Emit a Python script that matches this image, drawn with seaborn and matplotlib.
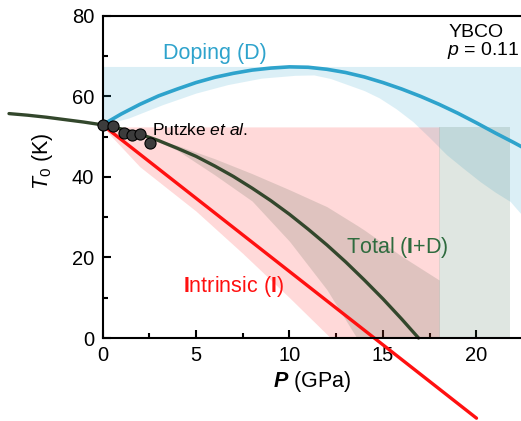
import matplotlib
matplotlib.use("Agg")
import matplotlib.pyplot as plt
import pandas as pd
import seaborn as sns

# --- data (P in GPa, T in K) ---
p_total = [-5, -4, -3, -2, -1, 0, 1, 2, 3, 4, 5, 6, 7, 8, 9, 10, 11, 12, 13, 14, 15, 16, 16.9]
t_total = [55.7, 55.3, 54.8, 54.2, 53.6, 52.9, 51.9, 50.6, 49.0, 47.1, 45.1, 42.7, 40.1,
           37.2, 34.1, 30.7, 27.0, 23.1, 18.9, 14.4, 9.7, 4.7, 0.0]

p_intr = [0, 20]
t_intr = [52.9, -19.9]

p_dop = [0, 1, 2, 3, 4, 5, 6, 7, 8, 9, 10, 11, 12, 13, 14, 15, 16, 17, 18, 19, 20, 21, 22, 23]
t_dop = [52.9, 55.6, 58.0, 60.1, 61.8, 63.4, 64.7, 65.7, 66.5, 67.0, 67.3, 67.2, 66.7, 65.9,
         64.8, 63.4, 61.8, 60.0, 58.0, 55.8, 53.4, 50.9, 48.5, 46.0]

# doping band (lower edge, top is flat)
p_dop_band = [0, 1.4, 3.2, 5, 6.7, 8.5, 10.3, 11.3, 12.2, 13.1, 14, 14.8, 15.7, 16.6,
              17.5, 18.4, 19.3, 20.2, 21, 21.8, 23]
t_dop_low = [52.9, 54.6, 57.9, 60.8, 62.9, 64.5, 65.2, 65.3, 64.4, 62.9, 61.4, 59.6, 56.9,
             53.7, 49.7, 45.5, 42.1, 38.8, 36.2, 33.9, 27.5]
t_dop_top = 67.4

# intrinsic band (lower edge, top is flat)
p_intr_band = [0, 2, 5, 7.5, 10, 12.2, 18]
t_intr_low = [52.4, 42.5, 31.5, 21.0, 10.0, 0.0, 0.0]
t_band_top = 52.4
p_intr_end = 18
p_green_end = 21.8

# total band
p_tot_band = [2.5, 4, 6, 8, 10, 12, 13.6, 14, 16, 18]
t_tot_up = [49.7, 47.8, 44.5, 40.8, 36.8, 32.6, 28.0, 26.8, 20.3, 14.4]
t_tot_low = [49.7, 46.6, 40.5, 34.0, 24.0, 12.0, 0.0, 0.0, 0.0, 0.0]

# Putzke et al. points
p_putzke = [0, 0.56, 1.17, 1.58, 1.99, 2.56]
t_putzke = [52.8, 52.7, 50.9, 50.5, 50.75, 48.4]

BLUE = "#2ea3cc"
RED = "#ff1010"
DKGREEN = "#33472c"
TXTGREEN = "#2e6b3e"

sns.set_theme(style="ticks")
plt.rcParams["font.family"] = ["Liberation Sans", "DejaVu Sans"]
plt.rcParams["mathtext.fontset"] = "custom"
plt.rcParams["mathtext.rm"] = "Liberation Sans"
plt.rcParams["mathtext.it"] = "Liberation Sans:italic"
plt.rcParams["mathtext.bf"] = "Liberation Sans:bold"
plt.rcParams["mathtext.bfit"] = "Liberation Sans:italic:bold"

fig = plt.figure(figsize=(5.21, 4.21), dpi=100)
ax = fig.add_axes([102.5 / 521, 83 / 421, 23 * 18.7 / 521, 322.3 / 421])

# shaded regions
ax.fill_between(p_dop_band, t_dop_low, t_dop_top, color=BLUE, alpha=0.17, lw=0)
ax.fill_between(p_intr_band, t_intr_low, t_band_top, color="#ff2020", alpha=0.17, lw=0)
ax.fill_between([p_intr_end, p_green_end], 0, t_band_top, color="#2d5a3a", alpha=0.15, lw=0)
ax.fill_between(p_tot_band, t_tot_low, t_tot_up, color="#2d4a2d", alpha=0.15, lw=0)

# curves
sns.lineplot(x=p_dop, y=t_dop, ax=ax, color=BLUE, lw=2.6, sort=False)
sns.lineplot(x=p_intr, y=t_intr, ax=ax, color=RED, lw=2.4, sort=False, clip_on=False)
sns.lineplot(x=p_total, y=t_total, ax=ax, color=DKGREEN, lw=2.4, sort=False, clip_on=False)

pts = pd.DataFrame({"P": p_putzke, "T": t_putzke})
sns.scatterplot(data=pts, x="P", y="T", ax=ax, s=64, color="#3c3c3c",
                edgecolor="black", linewidth=0.8, zorder=5, clip_on=False)

# annotations
ax.text(3.23, 69.2, "Doping (D)", color=BLUE, fontsize=15.5, ha="left", va="baseline")
ax.text(18.5, 74.8, "YBCO", color="black", fontsize=14, ha="left", va="baseline")
ax.text(18.4, 70.3, r"$\mathit{p}$ = 0.11", color="black", fontsize=14, ha="left", va="baseline")
ax.text(2.63, 50.4, r"Putzke $\mathit{et}$ $\mathit{al.}$", color="black", fontsize=12.5,
        ha="left", va="baseline")
ax.text(13.04, 21.0, r"Total ($\mathbf{I}$+D)", color=TXTGREEN, fontsize=15.5,
        ha="left", va="baseline")
ax.text(4.32, 11.5, r"$\mathbf{I}$ntrinsic ($\mathbf{I}$)", color=RED, fontsize=15.5,
        ha="left", va="baseline")

ax.set_xlim(0, 23)
ax.set_ylim(0, 80)
ax.set_xticks([0, 5, 10, 15, 20])
ax.set_xticks([2.5, 7.5, 12.5, 17.5, 22.5], minor=True)
ax.set_yticks([0, 20, 40, 60, 80])
ax.set_yticks([10, 30, 50, 70], minor=True)
ax.tick_params(which="major", direction="in", length=6, width=1.5, labelsize=14.5, pad=6,
               color="black", labelcolor="black")
ax.tick_params(which="minor", direction="in", length=3.5, width=1.5, color="black")
for side in ["left", "bottom", "top", "right"]:
    ax.spines[side].set_linewidth(1.5)
    ax.spines[side].set_color("black")

ax.set_xlabel(r"$\mathbfit{P}$ (GPa)", fontsize=15.5, color="black")
ax.set_ylabel(r"$\mathit{T}_0$ (K)", fontsize=15.5, color="black")
ax.xaxis.set_label_coords(0.487, -0.095)
ax.yaxis.set_label_coords(-0.11, 0.549)

fig.savefig("out.png", dpi=100)
